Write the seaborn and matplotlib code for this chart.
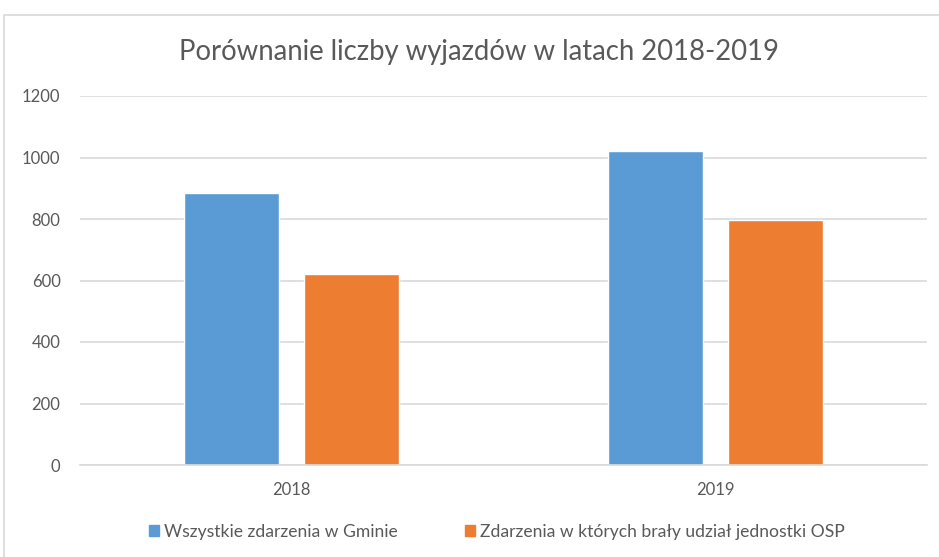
import matplotlib
matplotlib.use("Agg")
import matplotlib.pyplot as plt
import seaborn as sns
import pandas as pd
from matplotlib.patches import Rectangle

years = ["2018", "2019"]
series_names = ["Wszystkie zdarzenia w Gminie",
                "Zdarzenia w których brały udział jednostki OSP"]
all_events = [883, 1022]
osp_events = [621, 797]
yticks = [0, 200, 400, 600, 800, 1000, 1200]
title = "Porównanie liczby wyjazdów w latach 2018-2019"

df = pd.DataFrame({
    "year": years * 2,
    "series": [series_names[0]] * 2 + [series_names[1]] * 2,
    "value": all_events + osp_events,
})

sns.set_theme(style="white")
plt.rcParams["font.family"] = ["Lato", "DejaVu Sans"]

W, H = 939, 557
fig = plt.figure(figsize=(W / 100, H / 100), dpi=100)
ax = fig.add_axes([80 / W, 1 - 465 / H, (927 - 80) / W, (465 - 96) / H])

palette = {series_names[0]: "#5B9BD5", series_names[1]: "#ED7D31"}
sns.barplot(data=df, x="year", y="value", hue="series", order=years,
            hue_order=series_names, palette=palette, width=0.567, gap=0.21,
            saturation=1, ax=ax, legend=False)

ax.set_xlim(-0.5, 1.5)
ax.set_ylim(0, 1200)
ax.set_yticks(yticks)
ax.set_yticklabels([str(v) for v in yticks])
ax.yaxis.grid(True, color="#D9D9D9", linewidth=1.2)
ax.set_axisbelow(True)
for s in ["top", "right", "left"]:
    ax.spines[s].set_visible(False)
ax.spines["bottom"].set_color("#D9D9D9")
ax.spines["bottom"].set_linewidth(1.2)
ax.set_xlabel("")
ax.set_ylabel("")
ax.tick_params(axis="both", length=0, colors="#595959", labelsize=12)
ax.tick_params(axis="y", pad=14)
ax.tick_params(axis="x", pad=12)

fig.text(479 / W, 1 - 52 / H, title, ha="center", va="center",
         fontsize=19.8, color="#595959")

handles = [Rectangle((0, 0), 1, 1, color=palette[n]) for n in series_names]
leg = fig.legend(handles, series_names, loc="center", ncol=2,
                 bbox_to_anchor=(497 / W, 1 - 532 / H), frameon=False,
                 handlelength=0.6, handleheight=0.6, handletextpad=0.3,
                 columnspacing=3.8, fontsize=12.6)
for t in leg.get_texts():
    t.set_color("#595959")

fig.patches.append(Rectangle((4 / W, -0.1), 1.2, 1 - 15 / H + 0.1,
                             transform=fig.transFigure, fill=False,
                             edgecolor="#D9D9D9", linewidth=1.2))

fig.savefig("out.png", dpi=100)
